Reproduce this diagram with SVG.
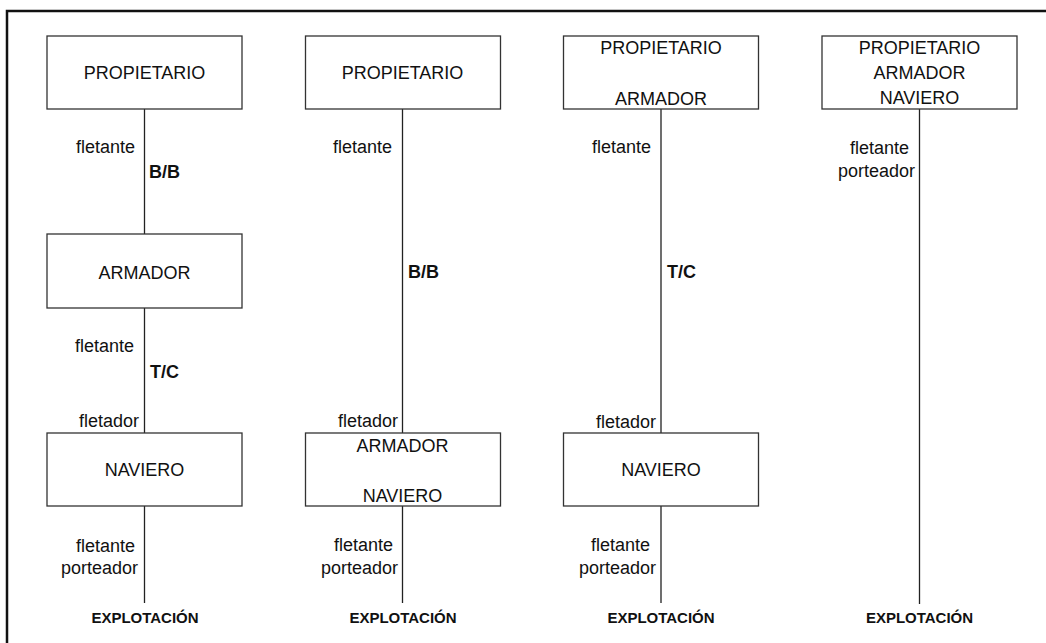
<svg xmlns="http://www.w3.org/2000/svg" width="1046" height="643" viewBox="0 0 1046 643">
<style>
.box{fill:#fff;stroke:#333;stroke-width:1.3}
.ln{stroke:#222;stroke-width:1.3;fill:none}
.t{font-family:"Liberation Sans",Arial,sans-serif;font-size:18px;fill:#111}
.c{text-anchor:middle}
.e{text-anchor:end}
.b{font-family:"Liberation Sans",Arial,sans-serif;font-size:18px;font-weight:bold;fill:#111}
.x{font-family:"Liberation Sans",Arial,sans-serif;font-size:15px;font-weight:bold;fill:#111;text-anchor:middle}
</style>
<rect width="1046" height="643" fill="#fff"/>
<path d="M7 643 V11 H1046" stroke="#111" stroke-width="2.5" fill="none"/>
<g id="connectors">
<path class="ln" d="M144.5 109 V234 M144.5 308 V433 M144.5 506 V603"/>
<path class="ln" d="M402.5 109 V433 M402.5 506 V603"/>
<path class="ln" d="M661 109 V433 M661 506 V603"/>
<path class="ln" d="M919.5 109 V604"/>
</g>
<g id="labels">
<text class="t e" x="135" y="153">fletante</text>
<text class="b" x="149" y="178">B/B</text>
<text class="t e" x="134" y="352">fletante</text>
<text class="b" x="150" y="378">T/C</text>
<text class="t e" x="139" y="427">fletador</text>
<text class="t e" x="135" y="552">fletante</text>
<text class="t e" x="138" y="574">porteador</text>
<text class="x" x="145" y="623">EXPLOTACIÓN</text>

<text class="t e" x="392" y="153">fletante</text>
<text class="b" x="408" y="278">B/B</text>
<text class="t e" x="398" y="427">fletador</text>
<text class="t e" x="393" y="551">fletante</text>
<text class="t e" x="398" y="574">porteador</text>
<text class="x" x="403" y="623">EXPLOTACIÓN</text>

<text class="t e" x="651" y="153">fletante</text>
<text class="b" x="667" y="278">T/C</text>
<text class="t e" x="656" y="428">fletador</text>
<text class="t e" x="650" y="551">fletante</text>
<text class="t e" x="656" y="574">porteador</text>
<text class="x" x="661" y="623">EXPLOTACIÓN</text>

<text class="t e" x="909" y="154">fletante</text>
<text class="t e" x="915" y="177">porteador</text>
<text class="x" x="919.5" y="623">EXPLOTACIÓN</text>
</g>
<g id="n1-propietario"><rect class="box" x="47" y="36" width="195" height="73"/><text class="t c" x="144.5" y="79">PROPIETARIO</text></g>
<g id="n1-armador"><rect class="box" x="47" y="234" width="195" height="74"/><text class="t c" x="144.5" y="279">ARMADOR</text></g>
<g id="n1-naviero"><rect class="box" x="47" y="433" width="195" height="73"/><text class="t c" x="144.5" y="476">NAVIERO</text></g>
<g id="n2-propietario"><rect class="box" x="305.5" y="36" width="195" height="73"/><text class="t c" x="402.5" y="79">PROPIETARIO</text></g>
<g id="n2-armador-naviero"><rect class="box" x="305.5" y="433" width="195" height="73"/><text class="t c" x="402.5" y="452">ARMADOR</text><text class="t c" x="402.5" y="502">NAVIERO</text></g>
<g id="n3-propietario-armador"><rect class="box" x="563.5" y="36" width="195" height="73"/><text class="t c" x="661" y="54">PROPIETARIO</text><text class="t c" x="661" y="105">ARMADOR</text></g>
<g id="n3-naviero"><rect class="box" x="563.5" y="433" width="195" height="73"/><text class="t c" x="661" y="476">NAVIERO</text></g>
<g id="n4-propietario-armador-naviero"><rect class="box" x="822" y="36" width="195" height="73"/><text class="t c" x="919.5" y="54">PROPIETARIO</text><text class="t c" x="919.5" y="79">ARMADOR</text><text class="t c" x="919.5" y="104">NAVIERO</text></g>
</svg>
